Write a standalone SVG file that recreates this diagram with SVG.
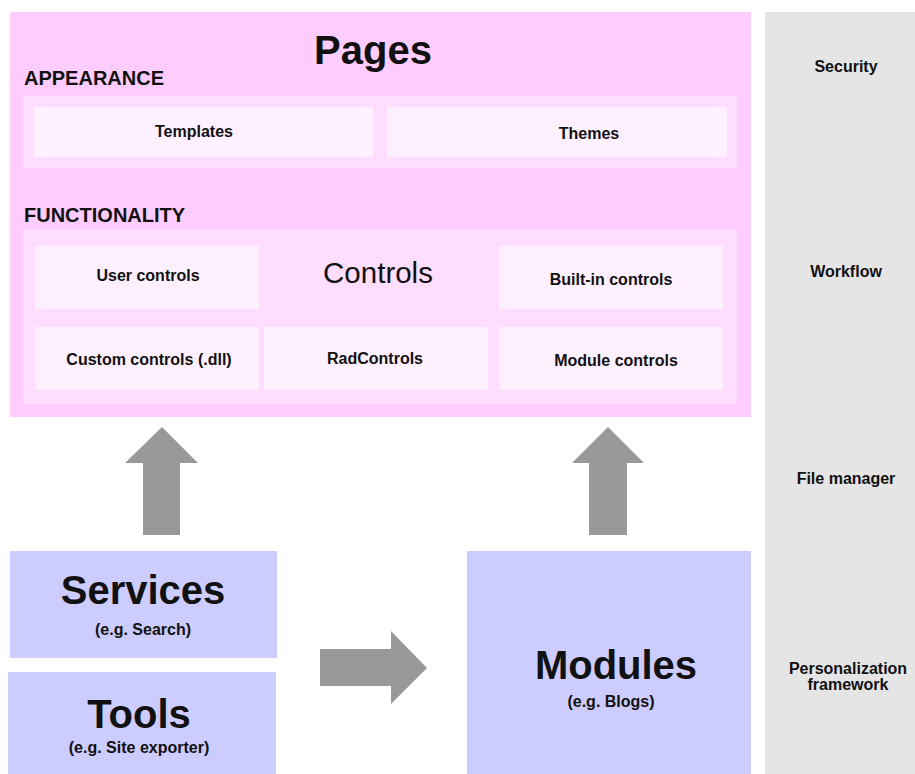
<svg xmlns="http://www.w3.org/2000/svg" width="915" height="774" viewBox="0 0 915 774">
<style>
text{font-family:"Liberation Sans",Arial,sans-serif;font-weight:bold;fill:#111111;text-anchor:middle}
.band{fill:#ffddff}
.cell{fill:#fff0ff}
.blue{fill:#ccccff}
.arrow{fill:#999999}
.s{font-size:16px}
.h{font-size:20px;text-anchor:start}
.big{font-size:40px}
</style>
<rect width="915" height="774" fill="#ffffff"/>
<g id="side">
<rect x="765" y="12" width="150" height="762" fill="#e5e5e5"/>
<text class="s" x="846" y="72">Security</text>
<text class="s" x="846" y="277">Workflow</text>
<text class="s" x="846" y="484">File manager</text>
<text class="s" x="848" y="674">Personalization</text>
<text class="s" x="848" y="690">framework</text>
</g>
<g id="pages">
<rect x="10" y="12" width="741" height="405" fill="#ffccff"/>
<text class="big" x="373" y="64">Pages</text>
<text class="h" x="24" y="85">APPEARANCE</text>
<text class="h" x="24" y="222">FUNCTIONALITY</text>
<rect class="band" x="23" y="96" width="714" height="72"/>
<rect class="band" x="23" y="230" width="714" height="174"/>
<text x="378" y="283" font-size="29.5" style="font-weight:normal">Controls</text>
</g>
<g id="templates"><rect class="cell" x="34" y="107" width="339" height="50"/><text class="s" x="194" y="137">Templates</text></g>
<g id="themes"><rect class="cell" x="387" y="107" width="340" height="50"/><text class="s" x="589" y="139">Themes</text></g>
<g id="user-controls"><rect class="cell" x="35" y="246" width="224" height="63"/><text class="s" x="148" y="281">User controls</text></g>
<g id="builtin-controls"><rect class="cell" x="499" y="246" width="224" height="63"/><text class="s" x="611" y="285">Built-in controls</text></g>
<g id="custom-controls"><rect class="cell" x="35" y="327" width="224" height="63"/><text class="s" x="149" y="365">Custom controls (.dll)</text></g>
<g id="radcontrols"><rect class="cell" x="264" y="327" width="224" height="63"/><text class="s" x="375" y="364">RadControls</text></g>
<g id="module-controls"><rect class="cell" x="499" y="327" width="224" height="63"/><text class="s" x="616" y="366">Module controls</text></g>
<g id="services"><rect class="blue" x="10" y="551" width="267" height="107"/><text class="big" x="143" y="604">Services</text><text class="s" x="143" y="635">(e.g. Search)</text></g>
<g id="tools"><rect class="blue" x="8" y="672" width="268" height="102"/><text class="big" x="139" y="728">Tools</text><text class="s" x="139" y="753">(e.g. Site exporter)</text></g>
<g id="modules"><rect class="blue" x="467" y="551" width="284" height="223"/><text class="big" x="616" y="679">Modules</text><text class="s" x="611" y="707">(e.g. Blogs)</text></g>
<g id="connectors">
<polygon class="arrow" points="162,427 198,463 180,463 180,535 143,535 143,463 125,463"/>
<polygon class="arrow" points="608,427 644,463 627,463 627,535 589,535 589,463 572,463"/>
<polygon class="arrow" points="427,668 391,704 391,686 320,686 320,649 391,649 391,631"/>
</g>
</svg>
